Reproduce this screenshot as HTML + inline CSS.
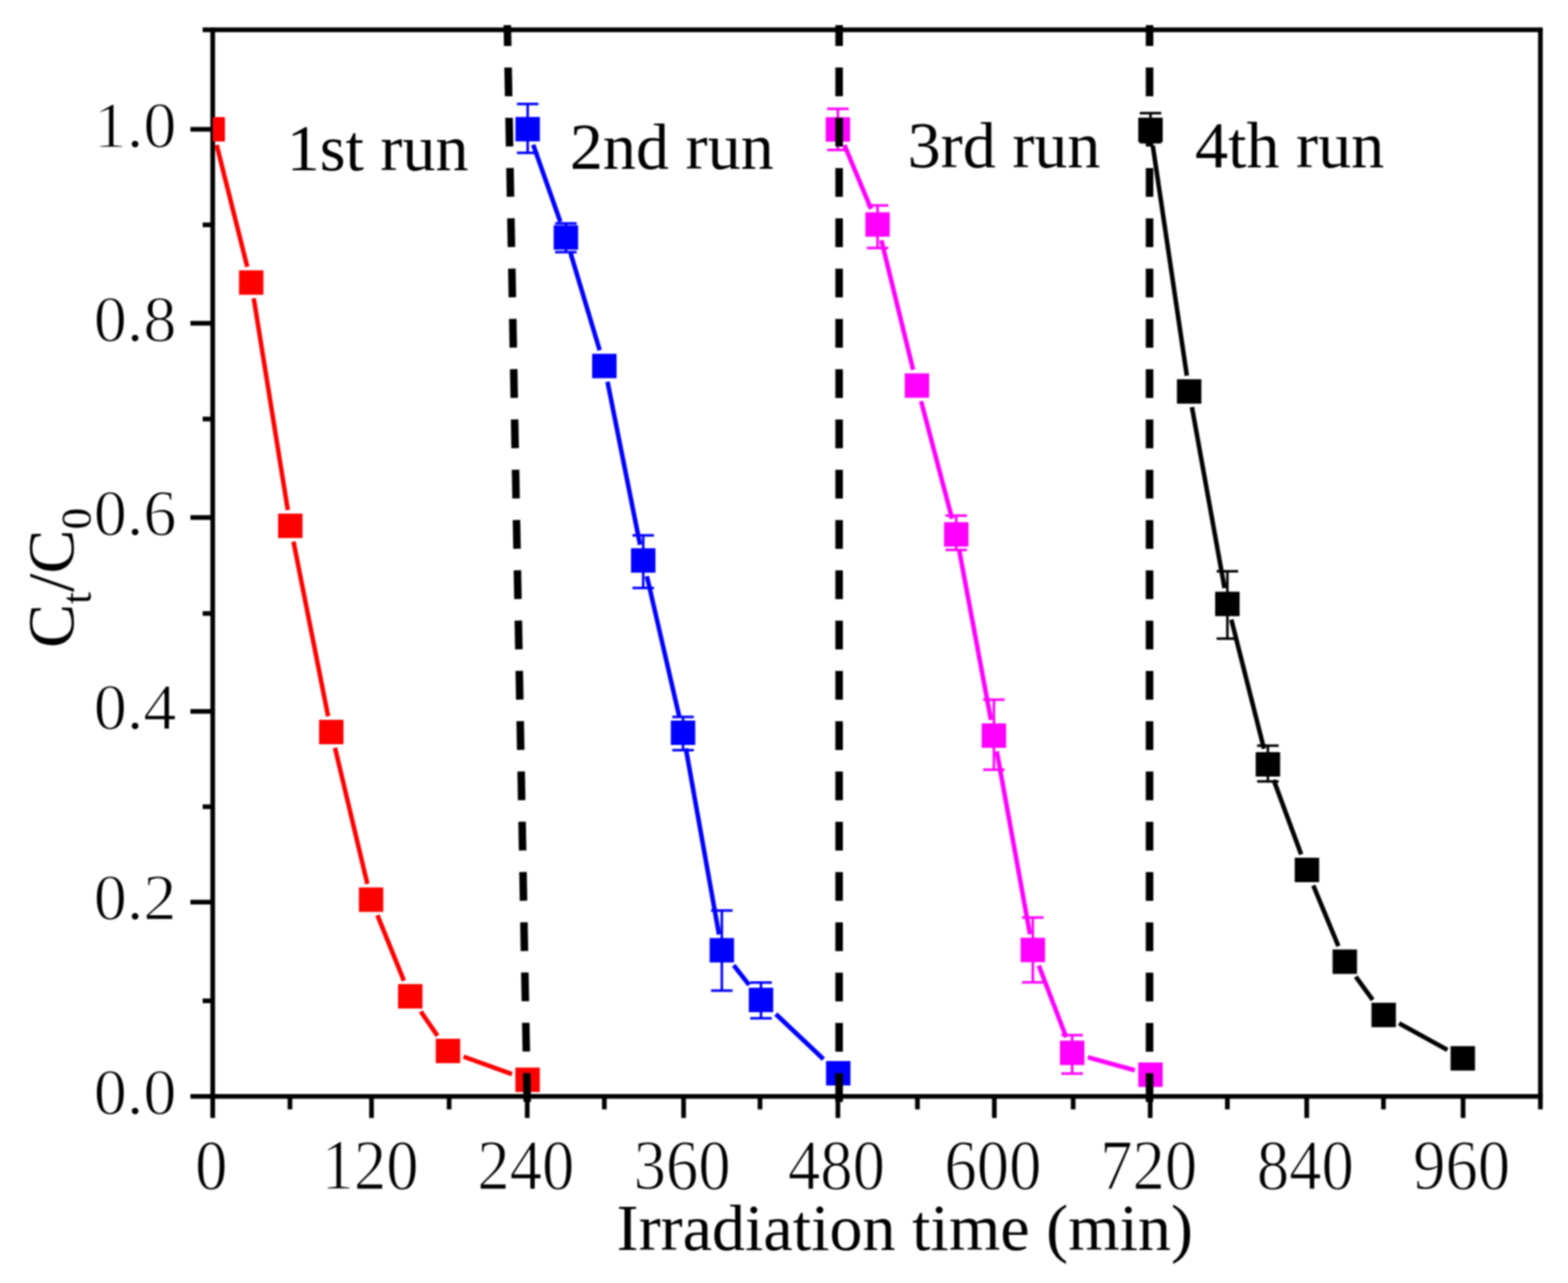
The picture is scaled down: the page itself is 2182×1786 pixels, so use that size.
<!DOCTYPE html>
<html lang="en"><head><meta charset="utf-8"><title>Ct/C0 vs irradiation time (4 runs)</title>
<style>html,body{margin:0;padding:0;background:#fff;}body{width:2182px;height:1786px;overflow:hidden;}svg{display:block;filter:blur(0.8px);}</style>
</head><body>
<svg width="2182" height="1786" viewBox="0 0 2182 1786">
<defs><clipPath id="pc"><rect x="296.0" y="41.6" width="1847.6" height="1484.7"/></clipPath></defs>
<g stroke="#000" stroke-width="6.5"><line x1="282.0" y1="41.6" x2="2146.6" y2="41.6"/><line x1="265.0" y1="1526.3" x2="2146.6" y2="1526.3"/><line x1="296.0" y1="38.6" x2="296.0" y2="1556.3"/><line x1="2143.6" y1="38.6" x2="2143.6" y2="1544.3"/><line x1="282.0" y1="1393.2" x2="296.0" y2="1393.2"/><line x1="265.0" y1="1255.8" x2="296.0" y2="1255.8"/><line x1="282.0" y1="1123" x2="296.0" y2="1123"/><line x1="265.0" y1="990.3" x2="296.0" y2="990.3"/><line x1="282.0" y1="854" x2="296.0" y2="854"/><line x1="265.0" y1="720.4" x2="296.0" y2="720.4"/><line x1="282.0" y1="583.3" x2="296.0" y2="583.3"/><line x1="265.0" y1="450" x2="296.0" y2="450"/><line x1="282.0" y1="313" x2="296.0" y2="313"/><line x1="265.0" y1="180" x2="296.0" y2="180"/><line x1="403.5" y1="1526.3" x2="403.5" y2="1544.3"/><line x1="517" y1="1526.3" x2="517" y2="1556.3"/><line x1="625" y1="1526.3" x2="625" y2="1544.3"/><line x1="733.7" y1="1526.3" x2="733.7" y2="1556.3"/><line x1="841" y1="1526.3" x2="841" y2="1544.3"/><line x1="951.3" y1="1526.3" x2="951.3" y2="1556.3"/><line x1="1057.6" y1="1526.3" x2="1057.6" y2="1544.3"/><line x1="1166" y1="1526.3" x2="1166" y2="1556.3"/><line x1="1276.7" y1="1526.3" x2="1276.7" y2="1544.3"/><line x1="1383.7" y1="1526.3" x2="1383.7" y2="1556.3"/><line x1="1493.4" y1="1526.3" x2="1493.4" y2="1544.3"/><line x1="1600.6" y1="1526.3" x2="1600.6" y2="1556.3"/><line x1="1708" y1="1526.3" x2="1708" y2="1544.3"/><line x1="1818.4" y1="1526.3" x2="1818.4" y2="1556.3"/><line x1="1925.2" y1="1526.3" x2="1925.2" y2="1544.3"/><line x1="2036" y1="1526.3" x2="2036" y2="1556.3"/></g>
<g clip-path="url(#pc)"><g stroke="#ff0000" stroke-width="6.3"><line x1="301.5" y1="201.8" x2="344.1" y2="371.5"/><line x1="353.1" y1="415.2" x2="400.5" y2="710.1"/><line x1="408.4" y1="753.9" x2="456.6" y2="997.1"/><line x1="466.2" y1="1040.9" x2="511.2" y2="1230.5"/><line x1="525.2" y1="1274.0" x2="562.1" y2="1365.3"/><line x1="585.5" y1="1408.0" x2="608.8" y2="1441.9"/><line x1="645.1" y1="1470.9" x2="712.5" y2="1495.2"/></g><g fill="#ff0000"><rect x="279.0" y="163.0" width="34" height="34"/><rect x="332.6" y="376.3" width="34" height="34"/><rect x="387.0" y="715.0" width="34" height="34"/><rect x="444.0" y="1002.0" width="34" height="34"/><rect x="499.4" y="1235.4" width="34" height="34"/><rect x="553.9" y="1369.9" width="34" height="34"/><rect x="606.4" y="1446.0" width="34" height="34"/><rect x="717.2" y="1486.1" width="34" height="34"/></g><g stroke="#0000ff" stroke-width="6.3"><line x1="742.0" y1="201.5" x2="779.8" y2="308.9"/><line x1="794.0" y1="352.4" x2="834.5" y2="487.7"/><line x1="845.4" y1="531.4" x2="890.7" y2="758.3"/><line x1="900.2" y1="802.1" x2="945.4" y2="998.1"/><line x1="954.4" y1="1041.9" x2="1000.6" y2="1300.9"/><line x1="1021.0" y1="1343.7" x2="1042.5" y2="1371.1"/><line x1="1079.6" y1="1411.6" x2="1145.9" y2="1474.4"/></g><g stroke="#0000ff" stroke-width="3.5" fill="none"><line x1="734.3" y1="144.8" x2="734.3" y2="212.7"/><line x1="719.3" y1="144.8" x2="749.3" y2="144.8"/><line x1="719.3" y1="212.7" x2="749.3" y2="212.7"/><line x1="787.5" y1="311.0" x2="787.5" y2="351.0"/><line x1="772.5" y1="311.0" x2="802.5" y2="311.0"/><line x1="772.5" y1="351.0" x2="802.5" y2="351.0"/><line x1="895.1" y1="745.3" x2="895.1" y2="818.5"/><line x1="880.1" y1="745.3" x2="910.1" y2="745.3"/><line x1="880.1" y1="818.5" x2="910.1" y2="818.5"/><line x1="950.5" y1="998.0" x2="950.5" y2="1044.3"/><line x1="935.5" y1="998.0" x2="965.5" y2="998.0"/><line x1="935.5" y1="1044.3" x2="965.5" y2="1044.3"/><line x1="1004.5" y1="1267.6" x2="1004.5" y2="1379.0"/><line x1="989.5" y1="1267.6" x2="1019.5" y2="1267.6"/><line x1="989.5" y1="1379.0" x2="1019.5" y2="1379.0"/><line x1="1059.0" y1="1367.8" x2="1059.0" y2="1417.5"/><line x1="1044.0" y1="1367.8" x2="1074.0" y2="1367.8"/><line x1="1044.0" y1="1417.5" x2="1074.0" y2="1417.5"/></g><g fill="#0000ff"><rect x="717.3" y="162.8" width="34" height="34"/><rect x="770.5" y="313.6" width="34" height="34"/><rect x="824.0" y="492.5" width="34" height="34"/><rect x="878.1" y="763.2" width="34" height="34"/><rect x="933.5" y="1003.0" width="34" height="34"/><rect x="987.5" y="1305.8" width="34" height="34"/><rect x="1042.0" y="1375.0" width="34" height="34"/><rect x="1149.5" y="1477.0" width="34" height="34"/></g><g stroke="#ff00ff" stroke-width="6.3"><line x1="1175.0" y1="201.8" x2="1212.2" y2="290.9"/><line x1="1226.5" y1="334.4" x2="1270.7" y2="514.8"/><line x1="1281.8" y1="558.5" x2="1324.9" y2="722.1"/><line x1="1334.8" y1="765.8" x2="1379.0" y2="1002.1"/><line x1="1387.1" y1="1045.9" x2="1433.3" y2="1300.5"/><line x1="1445.6" y1="1344.1" x2="1483.7" y2="1443.9"/><line x1="1513.8" y1="1471.7" x2="1579.2" y2="1489.9"/></g><g stroke="#ff00ff" stroke-width="3.5" fill="none"><line x1="1166.0" y1="151.4" x2="1166.0" y2="208.7"/><line x1="1151.0" y1="151.4" x2="1181.0" y2="151.4"/><line x1="1151.0" y1="208.7" x2="1181.0" y2="208.7"/><line x1="1221.2" y1="286.0" x2="1221.2" y2="345.2"/><line x1="1206.2" y1="286.0" x2="1236.2" y2="286.0"/><line x1="1206.2" y1="345.2" x2="1236.2" y2="345.2"/><line x1="1330.7" y1="717.7" x2="1330.7" y2="765.6"/><line x1="1315.7" y1="717.7" x2="1345.7" y2="717.7"/><line x1="1315.7" y1="765.6" x2="1345.7" y2="765.6"/><line x1="1383.1" y1="974.1" x2="1383.1" y2="1071.5"/><line x1="1368.1" y1="974.1" x2="1398.1" y2="974.1"/><line x1="1368.1" y1="1071.5" x2="1398.1" y2="1071.5"/><line x1="1437.3" y1="1277.2" x2="1437.3" y2="1367.5"/><line x1="1422.3" y1="1277.2" x2="1452.3" y2="1277.2"/><line x1="1422.3" y1="1367.5" x2="1452.3" y2="1367.5"/><line x1="1492.0" y1="1440.9" x2="1492.0" y2="1494.5"/><line x1="1477.0" y1="1440.9" x2="1507.0" y2="1440.9"/><line x1="1477.0" y1="1494.5" x2="1507.0" y2="1494.5"/></g><g fill="#ff00ff"><rect x="1149.0" y="163.2" width="34" height="34"/><rect x="1204.2" y="295.5" width="34" height="34"/><rect x="1259.0" y="519.7" width="34" height="34"/><rect x="1313.7" y="726.9" width="34" height="34"/><rect x="1366.1" y="1007.0" width="34" height="34"/><rect x="1420.3" y="1305.4" width="34" height="34"/><rect x="1475.0" y="1448.6" width="34" height="34"/><rect x="1584.0" y="1479.0" width="34" height="34"/></g><g stroke="#000000" stroke-width="6.3"><line x1="1604.2" y1="202.7" x2="1651.6" y2="523.0"/><line x1="1658.7" y1="566.8" x2="1704.1" y2="818.8"/><line x1="1713.5" y1="862.5" x2="1758.9" y2="1042.2"/><line x1="1772.4" y1="1085.7" x2="1810.7" y2="1189.3"/><line x1="1827.6" y1="1232.6" x2="1862.5" y2="1317.1"/><line x1="1886.7" y1="1359.7" x2="1910.2" y2="1391.9"/><line x1="1946.9" y1="1424.6" x2="2014.2" y2="1461.6"/></g><g stroke="#000000" stroke-width="3.5" fill="none"><line x1="1601.0" y1="157.6" x2="1601.0" y2="198.0"/><line x1="1586.0" y1="157.6" x2="1616.0" y2="157.6"/><line x1="1586.0" y1="198.0" x2="1616.0" y2="198.0"/><line x1="1708.0" y1="795.2" x2="1708.0" y2="888.9"/><line x1="1693.0" y1="795.2" x2="1723.0" y2="795.2"/><line x1="1693.0" y1="888.9" x2="1723.0" y2="888.9"/><line x1="1764.4" y1="1038.1" x2="1764.4" y2="1087.7"/><line x1="1749.4" y1="1038.1" x2="1779.4" y2="1038.1"/><line x1="1749.4" y1="1087.7" x2="1779.4" y2="1087.7"/></g><g fill="#000000"><rect x="1584.0" y="163.8" width="34" height="34"/><rect x="1637.8" y="527.9" width="34" height="34"/><rect x="1691.0" y="823.7" width="34" height="34"/><rect x="1747.4" y="1047.0" width="34" height="34"/><rect x="1801.7" y="1194.0" width="34" height="34"/><rect x="1854.4" y="1321.7" width="34" height="34"/><rect x="1908.5" y="1395.9" width="34" height="34"/><rect x="2018.6" y="1456.3" width="34" height="34"/></g></g>
<g stroke="#000" stroke-width="10.5" stroke-dasharray="40 30" stroke-dashoffset="11" fill="none"><line x1="706" y1="35" x2="733.7" y2="1534"/><line x1="1167.7" y1="35" x2="1167.7" y2="1534"/><line x1="1599.7" y1="35" x2="1599.7" y2="1534"/></g>
<g font-family='"Liberation Serif", "Times New Roman", serif' font-size="92" fill="#000" stroke="#fff" stroke-width="1.5"><text transform="translate(294.0 1654.5) scale(0.9 1)" font-size="100" text-anchor="middle">0</text><text transform="translate(515.0 1654.5) scale(0.9 1)" font-size="100" text-anchor="middle">120</text><text transform="translate(731.7 1654.5) scale(0.9 1)" font-size="100" text-anchor="middle">240</text><text transform="translate(949.3 1654.5) scale(0.9 1)" font-size="100" text-anchor="middle">360</text><text transform="translate(1164.0 1654.5) scale(0.9 1)" font-size="100" text-anchor="middle">480</text><text transform="translate(1381.7 1654.5) scale(0.9 1)" font-size="100" text-anchor="middle">600</text><text transform="translate(1598.6 1654.5) scale(0.9 1)" font-size="100" text-anchor="middle">720</text><text transform="translate(1816.4 1654.5) scale(0.9 1)" font-size="100" text-anchor="middle">840</text><text transform="translate(2034.0 1654.5) scale(0.9 1)" font-size="100" text-anchor="middle">960</text><text x="245.5" y="1550.8" text-anchor="end">0.0</text><text x="245.5" y="1280.3" text-anchor="end">0.2</text><text x="245.5" y="1014.8" text-anchor="end">0.4</text><text x="245.5" y="744.9" text-anchor="end">0.6</text><text x="245.5" y="474.5" text-anchor="end">0.8</text><text x="245.5" y="204.5" text-anchor="end">1.0</text></g>
<g font-family='"Liberation Serif", "Times New Roman", serif' font-size="92" fill="#000"><text x="399" y="237">1st run</text><text x="793" y="235">2nd run</text><text x="1263" y="233">3rd run</text><text x="1663" y="233">4th run</text></g>
<text x="858" y="1740" font-family='"Liberation Serif", "Times New Roman", serif' font-size="92" fill="#000">Irradiation time (min)</text>
<text transform="translate(102 902) rotate(-90)" font-family='"Liberation Serif", "Times New Roman", serif' font-size="92" fill="#000">C<tspan font-size="60" dy="24">t</tspan><tspan dy="-24">/C</tspan><tspan font-size="60" dy="24">0</tspan></text>
</svg>
</body></html>
